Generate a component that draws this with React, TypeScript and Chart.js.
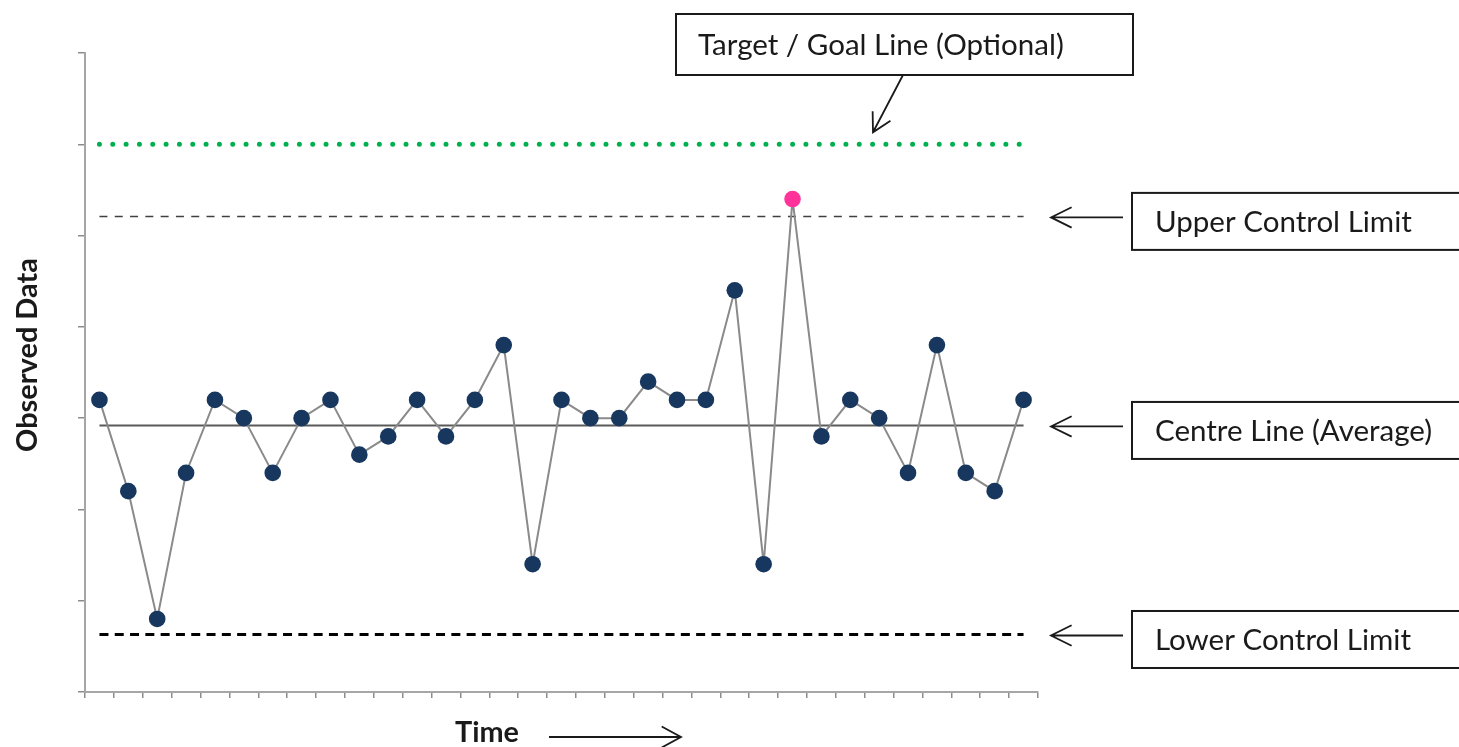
import React, { useEffect, useRef } from "react";
import { Chart, registerables } from "chart.js";

Chart.register(...registerables);

// ---------- data ----------
const categories = [
  "1", "2", "3", "4", "5", "6", "7", "8", "9", "10", "11",
  "12", "13", "14", "15", "16", "17", "18", "19", "20", "21", "22",
  "23", "24", "25", "26", "27", "28", "29", "30", "31", "32", "33",
];
const observedValues = [
  16, 11, 4, 12, 16, 15, 12, 15, 16, 13, 14,
  16, 14, 16, 19, 7, 16, 15, 15, 17, 16, 16,
  22, 7, 27, 14, 16, 15, 12, 19, 12, 11, 16,
];
const targetValue = 30;
const upperControlLimit = 26.05;
const centreLineValue = 14.6;
const lowerControlLimit = 3.15;
const yAxisRange = [0, 35];
const yAxisStep = 5;

const targetLabel = "Target / Goal Line (Optional)";
const sideLabels = ["Upper Control Limit", "Centre Line (Average)", "Lower Control Limit"];
const yTitle = "Observed Data";
const xTitle = "Time";

// ---------- styles ----------
const FONT = "Lato, 'Open Sans', sans-serif";
const NAVY = "#17375E";
const PINK = "#FF3399";

function fitSize(ctx: CanvasRenderingContext2D, text: string, width: number, weight: string) {
  ctx.font = `${weight} 100px ${FONT}`;
  return (100 * width) / ctx.measureText(text).width;
}

function drawArrow(
  ctx: CanvasRenderingContext2D,
  x1: number, y1: number, x2: number, y2: number,
  head = 23, spread = 0.46
) {
  const ang = Math.atan2(y2 - y1, x2 - x1);
  ctx.beginPath();
  ctx.moveTo(x1, y1);
  ctx.lineTo(x2, y2);
  ctx.moveTo(x2 - head * Math.cos(ang - spread), y2 - head * Math.sin(ang - spread));
  ctx.lineTo(x2, y2);
  ctx.lineTo(x2 - head * Math.cos(ang + spread), y2 - head * Math.sin(ang + spread));
  ctx.stroke();
}

const annotationPlugin = {
  id: "spcAnnotations",
  afterDraw(chart: any) {
    const ctx: CanvasRenderingContext2D = chart.ctx;
    const ys = chart.scales.y;
    ctx.save();
    ctx.strokeStyle = "#1a1a1a";
    ctx.fillStyle = "#1a1a1a";
    ctx.lineWidth = 1.8;
    ctx.lineCap = "butt";

    const boxSize = fitSize(ctx, sideLabels[0], 257, "normal");
    ctx.font = `normal ${boxSize}px ${FONT}`;
    ctx.textAlign = "left";
    ctx.textBaseline = "alphabetic";
    const capHalf = boxSize * 0.36;

    // target box + arrow
    const ty = ys.getPixelForValue(targetValue);
    ctx.lineWidth = 2;
    ctx.strokeRect(676, 14, 457, 61);
    ctx.fillText(targetLabel, 698, 44.5 + capHalf);
    ctx.lineWidth = 1.8;
    drawArrow(ctx, 903, 75, 873, ty - 12, 21, 0.5);

    // side boxes
    const values = [upperControlLimit, centreLineValue, lowerControlLimit];
    values.forEach((v, i) => {
      const ly = ys.getPixelForValue(v);
      const cy = ly + 5;
      ctx.lineWidth = 2;
      ctx.strokeRect(1132, cy - 28.5, 400, 57);
      ctx.fillText(sideLabels[i], 1155, cy + capHalf);
      ctx.lineWidth = 1.8;
      drawArrow(ctx, 1123, ly + 1, 1051, ly + 1);
    });

    // axis titles
    const ySize = fitSize(ctx, yTitle, 194, "bold");
    ctx.font = `bold ${ySize}px ${FONT}`;
    ctx.save();
    ctx.translate(37, 355);
    ctx.rotate(-Math.PI / 2);
    ctx.textAlign = "center";
    ctx.fillText(yTitle, 0, 0);
    ctx.restore();

    const xSize = fitSize(ctx, xTitle, 64, "bold");
    ctx.font = `bold ${xSize}px ${FONT}`;
    ctx.textAlign = "left";
    ctx.fillText(xTitle, 455, 742);
    drawArrow(ctx, 549, 737, 681, 737, 22, 0.5);

    ctx.restore();
  },
};

export default function App() {
  const ref = useRef<HTMLCanvasElement | null>(null);

  useEffect(() => {
    if (!ref.current) return;
    const constant = (v: number) => categories.map(() => v);
    const pointColors = observedValues.map((v) => (v > upperControlLimit ? PINK : NAVY));

    const chart = new Chart(ref.current, {
      type: "line",
      data: {
        labels: categories,
        datasets: [
          {
            label: "Observed",
            data: observedValues,
            borderColor: "#8a8a8a",
            borderWidth: 2,
            pointRadius: 8.3,
            pointBackgroundColor: pointColors,
            pointBorderColor: pointColors,
            pointBorderWidth: 0,
            tension: 0,
            order: 0,
          },
          {
            label: "Target",
            data: constant(targetValue),
            borderColor: "#00B050",
            borderWidth: 5,
            borderDash: [0, 13.33],
            borderCapStyle: "round",
            pointRadius: 0,
            order: 1,
          },
          {
            label: "UCL",
            data: constant(upperControlLimit),
            borderColor: "#404040",
            borderWidth: 1.5,
            borderDash: [8, 7.3],
            pointRadius: 0,
            order: 1,
          },
          {
            label: "Centre",
            data: constant(centreLineValue),
            borderColor: "#5a5a5a",
            borderWidth: 2,
            pointRadius: 0,
            order: 1,
          },
          {
            label: "LCL",
            data: constant(lowerControlLimit),
            borderColor: "#000000",
            borderWidth: 3,
            borderDash: [9, 6.3],
            pointRadius: 0,
            order: 1,
          },
        ],
      },
      options: {
        animation: false,
        responsive: false,
        maintainAspectRatio: false,
        layout: { padding: { left: 78, top: 53, right: 421, bottom: 49 } },
        plugins: {
          legend: { display: false },
          tooltip: { enabled: false },
          title: { display: false },
        },
        scales: {
          x: {
            type: "category",
            offset: true,
            grid: {
              offset: true,
              drawOnChartArea: false,
              drawTicks: true,
              tickLength: 6,
              tickColor: "#8c8c8c",
              lineWidth: 1.5,
            },
            border: { display: true, color: "#a6a6a6", width: 2 },
            ticks: { display: false },
          },
          y: {
            min: yAxisRange[0],
            max: yAxisRange[1],
            ticks: { display: false, stepSize: yAxisStep },
            grid: {
              drawOnChartArea: false,
              drawTicks: true,
              tickLength: 7,
              tickColor: "#8c8c8c",
              lineWidth: 1.5,
            },
            border: { display: true, color: "#a6a6a6", width: 2 },
          },
        },
      },
      plugins: [annotationPlugin],
    } as any);

    return () => chart.destroy();
  }, []);

  return (
    <div style={{ position: "fixed", left: 0, top: 0, width: 1459, height: 747, background: "#fff" }}>
      <canvas ref={ref} width={1459} height={747} style={{ display: "block" }} />
    </div>
  );
}
